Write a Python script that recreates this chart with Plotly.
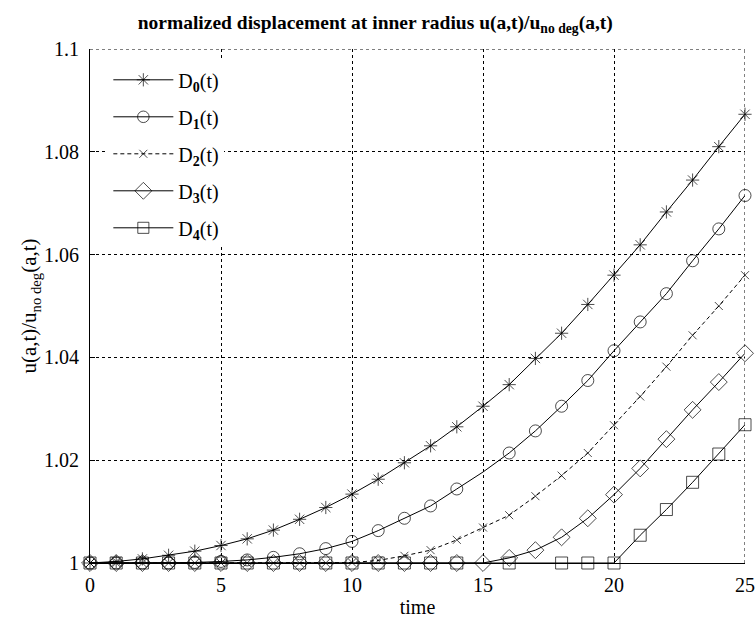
import plotly.graph_objects as go

# ---- data ----
time = list(range(26))

D0 = [1.0000, 1.0003, 1.0008, 1.0015, 1.0023, 1.0034, 1.0047, 1.0064, 1.0085, 1.0108,
      1.0134, 1.0163, 1.0195, 1.0228, 1.0265, 1.0305, 1.0347, 1.0398, 1.0447, 1.0503,
      1.0560, 1.0619, 1.0683, 1.0745, 1.0810, 1.0873]
D1 = [1.0000, 1.0000, 1.0000, 1.0000, 1.0001, 1.0003, 1.0006, 1.0011, 1.0018, 1.0028,
      1.0042, 1.0063, 1.0087, 1.0111, 1.0144, 1.0177, 1.0214, 1.0257, 1.0305, 1.0355,
      1.0413, 1.0469, 1.0524, 1.0588, 1.0650, 1.0715]
D2 = [1.0000, 1.0000, 1.0000, 1.0000, 1.0000, 1.0000, 1.0000, 1.0000, 1.0000, 1.0000,
      1.0001, 1.0005, 1.0014, 1.0025, 1.0045, 1.0069, 1.0093, 1.0130, 1.0170, 1.0214,
      1.0268, 1.0324, 1.0382, 1.0443, 1.0500, 1.0560]
D3 = [1.0000, 1.0000, 1.0000, 1.0000, 1.0000, 1.0000, 1.0000, 1.0000, 1.0000, 1.0000,
      1.0000, 1.0000, 1.0000, 1.0000, 1.0000, 1.0000, 1.0010, 1.0025, 1.0050, 1.0087,
      1.0133, 1.0184, 1.0241, 1.0298, 1.0352, 1.0408]
D4 = [1.0000, 1.0000, 1.0000, 1.0000, 1.0000, 1.0000, 1.0000, 1.0000, 1.0000, 1.0000,
      1.0000, 1.0000, 1.0000, 1.0000, 1.0000, 1.0000, 1.0000, 1.0000, 1.0000, 1.0000,
      1.0000, 1.0054, 1.0104, 1.0157, 1.0212, 1.0269]

series_names = ["D<sub><b>0</b></sub>(t)", "D<sub><b>1</b></sub>(t)", "D<sub><b>2</b></sub>(t)",
                "D<sub><b>3</b></sub>(t)", "D<sub><b>4</b></sub>(t)"]
# time points where the reference shows no marker on a curve
missing_markers = {1: [15], 4: [15, 17]}

y_ticks = [1.0, 1.02, 1.04, 1.06, 1.08, 1.1]
y_tick_text = ["1", "1.02", "1.04", "1.06", "1.08", "1.1"]
x_ticks = [0, 5, 10, 15, 20, 25]

# ---- styles ----
FONT = "Liberation Serif"
symbols = ["asterisk-open", "circle-open", "x-thin-open", "diamond-open", "square-open"]
sizes = [11, 12, 8, 13, 12]
dashes = ["solid", "solid", "4px,3px", "solid", "solid"]
GRID_DASH = "3px,3px"

fig = go.Figure()
for i, ys in enumerate([D0, D1, D2, D3, D4]):
    msize = [0 if t in missing_markers.get(i, []) else sizes[i] for t in time]
    fig.add_trace(go.Scatter(
        x=time, y=ys, name=series_names[i], mode="lines+markers",
        legendgroup=f"g{i}", cliponaxis=False,
        line=dict(color="black", width=1, dash=dashes[i]),
        marker=dict(symbol=symbols[i], size=msize, color="black",
                    line=dict(color="black", width=1)),
    ))

# dashed grid lines on the top and right edges of the axes box
fig.add_shape(type="line", xref="x", yref="y", x0=x_ticks[0], x1=x_ticks[-1],
              y0=y_ticks[-1], y1=y_ticks[-1], layer="below",
              line=dict(color="black", width=1, dash=GRID_DASH))
fig.add_shape(type="line", xref="x", yref="y", x0=x_ticks[-1], x1=x_ticks[-1],
              y0=y_ticks[0], y1=y_ticks[-1], layer="below",
              line=dict(color="black", width=1, dash=GRID_DASH))

fig.update_layout(
    width=755, height=621,
    margin=dict(l=90, r=10, t=49, b=58, autoexpand=False),
    paper_bgcolor="white", plot_bgcolor="white",
    font=dict(family=FONT, size=20, color="black"),
    title=dict(text="<b>normalized displacement at inner radius u(a,t)/u<sub>no deg</sub>(a,t)</b>",
               x=0.497, xanchor="center", y=0.965, yanchor="middle",
               font=dict(family=FONT, size=19.5, color="black")),
    legend=dict(x=0.028, y=0.978, xanchor="left", yanchor="top",
                bgcolor="white", borderwidth=0,
                font=dict(family=FONT, size=20, color="black"),
                itemwidth=60, tracegroupgap=8),
    showlegend=True,
)
fig.update_xaxes(
    range=[0, 25], tickvals=x_ticks, showline=True, linecolor="black", linewidth=1,
    showgrid=True, gridcolor="black", gridwidth=1, griddash=GRID_DASH,
    ticks="inside", ticklen=5, tickcolor="black", zeroline=False,
    tickfont=dict(family=FONT, size=20), ticklabelstandoff=4,
    title=dict(text="time", standoff=4, font=dict(family=FONT, size=20)),
)
fig.update_yaxes(
    range=[1, 1.1], tickvals=y_ticks, ticktext=y_tick_text,
    showline=True, linecolor="black", linewidth=1,
    showgrid=True, gridcolor="black", gridwidth=1, griddash=GRID_DASH,
    ticks="inside", ticklen=5, tickcolor="black", zeroline=False,
    tickfont=dict(family=FONT, size=20), ticklabelstandoff=6,
    title=dict(text="u(a,t)/u<sub>no deg</sub>(a,t)", standoff=1, font=dict(family=FONT, size=21)),
)

fig.write_html("out.html")
